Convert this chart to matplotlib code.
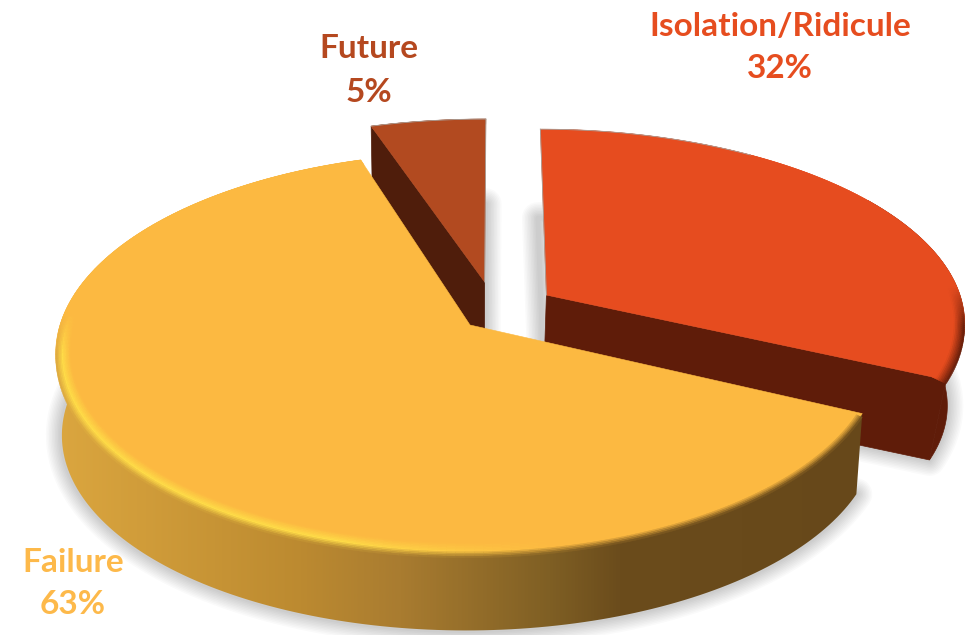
import numpy as np
import matplotlib
matplotlib.use('Agg')
from matplotlib import pyplot as plt
from matplotlib.colors import LinearSegmentedColormap, to_rgb
from matplotlib.collections import PolyCollection
from matplotlib.patches import Polygon

plt.rcParams['font.family'] = ['Lato', 'DejaVu Sans']

# data, clockwise from 12 o'clock
categories = ['Isolation/Ridicule', 'Failure', 'Future']
values = [32, 63, 5]

# style
top_colors = ['#e64c1f', '#fcb941', '#b24a20']
side_colors = ['#5f1c09', '#6a4a1b', '#4f1d0b']
text_colors = ['#e64d1f', '#fdb94a', '#b5481f']
offsets = [(0.189, 0.156), (0.0, 0.0), (0.035, 0.226)]
stretch = [1.03, 1.0, 1.05]
shrink = [0.965, 0.985, 0.985]
label_pos = [(780, 27, 69), (73, 563, 605), (369, 49, 92)]

# failure rim shading, x position in pixels against colour
rim_x = [58, 300, 400, 550, 620, 865]
rim_colors = ['#dba63f', '#bc8a30', '#a97c30', '#7f5f24', '#6b4c1c', '#67481a']

# projection of the pie on the picture
CX, CY = 470, 325
VX = 495
RX, RY = 410, 196
K = 0.136
D = 82


def project(theta, rad, i):
    """top face point of slice i for an angle clockwise from 12 o'clock"""
    X = offsets[i][0] + stretch[i] * rad * np.sin(theta)
    Y = offsets[i][1] + rad * np.cos(theta)
    w = 1 + K * Y
    return VX + (RX * X + CX - VX) / w, CY - RY * Y / w


def lower(x, y, i):
    """same point on the bottom face"""
    return CX + shrink[i] * (x - CX), CY + shrink[i] * (y - CY) + D


def lerp(a, b, t):
    return tuple(a[n] + (b[n] - a[n]) * t for n in range(3))


def front_of(theta):
    return np.clip((0.05 - np.cos(theta)) / 0.2, 0, 1)


fig = plt.figure(figsize=(9.65, 6.35), dpi=100)
ax = fig.add_axes([0, 0, 1, 1])

rim_pos = [(x - rim_x[0]) / (rim_x[-1] - rim_x[0]) for x in rim_x]
rim_cmap = LinearSegmentedColormap.from_list('rim', list(zip(rim_pos, rim_colors)))

# slice angles come from the values
edges = np.cumsum([0] + values) / sum(values) * 2 * np.pi

slices = []
for i in range(len(values)):
    th = np.linspace(edges[i], edges[i + 1], 200)
    tx, ty = project(th, 1.0, i)
    ax_, ay_ = project(0.0, 0.0, i)
    bx, by = lower(tx, ty, i)
    slices.append(dict(th=th, tx=tx, ty=ty, ax=ax_, ay=ay_, bx=bx, by=by))

# soft shadow round the bottom faces
for i, s in enumerate(slices):
    ox, oy = lower(s['ax'], s['ay'], i)
    pts = np.column_stack([np.r_[ox, s['bx']], np.r_[oy, s['by']]])
    for w in np.arange(32, 2, -3):
        ax.add_patch(Polygon(pts, closed=True, fc='none', ec='black', lw=w * 0.72,
                             alpha=0.02, joinstyle='round', zorder=1))


def draw_bevel(i, side_at, zorder):
    # the ring rolls over the rim at the front, stays on the face at the back
    th = slices[i]['th']
    steps = np.linspace(0, 1, 11)
    drop = 6 * front_of(th) * np.abs(np.cos(th)) ** 0.5
    quads, cols = [], []
    for j in range(len(steps) - 1):
        x0, y0 = project(th, 0.965 + 0.035 * steps[j], i)
        x1, y1 = project(th, 0.965 + 0.035 * steps[j + 1], i)
        y0 = y0 + drop * steps[j]
        y1 = y1 + drop * steps[j + 1]
        t = (j + 0.5) / (len(steps) - 1)
        for n in range(len(th) - 1):
            quads.append([(x0[n], y0[n]), (x0[n + 1], y0[n + 1]), (x1[n + 1], y1[n + 1]), (x1[n], y1[n])])
            cols.append(side_at(x0[n], th[n], t))
    ax.add_collection(PolyCollection(quads, facecolors=cols, edgecolors=cols, linewidths=0.3, zorder=zorder))


def dark_bevel(face, side):
    f, d = to_rgb(face), to_rgb(side)

    def col(x, theta, t):
        return lerp(f, d, front_of(theta) * max(0, t - 0.3) / 0.7)
    return col


def failure_bevel(x, theta, t):
    f = to_rgb(top_colors[1])
    side = rim_cmap((x - rim_x[0]) / (rim_x[-1] - rim_x[0]))[:3]
    glow = np.clip((560 - x) / 220, 0, 1)
    hl = lerp(f, to_rgb('#ffdc48'), glow)
    if t < 0.55:
        c = lerp(f, hl, t / 0.55)
    else:
        c = lerp(hl, side, (t - 0.55) / 0.45)
    return lerp(f, c, front_of(theta))


# back to front: future, isolation, failure
for i, z in [(2, 3), (0, 6), (1, 9)]:
    s = slices[i]
    ox, oy = lower(s['ax'], s['ay'], i)
    keep = s['th'] > 1.0
    rim = np.column_stack([np.r_[s['tx'][keep], s['bx'][keep][::-1]], np.r_[s['ty'][keep], s['by'][keep][::-1]]])
    if i == 1:
        img = ax.imshow(np.linspace(0, 1, 512).reshape(1, -1), cmap=rim_cmap, vmin=0, vmax=1,
                        extent=[rim_x[0], rim_x[-1], 635, 0], aspect='auto', zorder=z)
        img.set_clip_path(Polygon(rim, closed=True, transform=ax.transData))
    elif i == 0:
        ax.add_patch(Polygon(rim, closed=True, fc=side_colors[i], ec=side_colors[i], lw=0.5, zorder=z))
    # radial wall that faces us
    if i != 1:
        k = -1 if i == 0 else 0
        wall = [(s['ax'], s['ay']), (s['tx'][k], s['ty'][k]), (s['bx'][k], s['by'][k]), (ox, oy)]
        ax.add_patch(Polygon(wall, closed=True, fc=side_colors[i], ec=side_colors[i], lw=0.5, zorder=z))
    face = np.column_stack([np.r_[s['ax'], s['tx']], np.r_[s['ay'], s['ty']]])
    ax.add_patch(Polygon(face, closed=True, fc=top_colors[i], ec=top_colors[i], lw=0.4, zorder=z + 1))
    if i == 1:
        draw_bevel(i, failure_bevel, z + 2)
    else:
        draw_bevel(i, dark_bevel(top_colors[i], side_colors[i]), z + 2)

# thin grey edge on the two straight sides beside the gap
back = slices[0]
ax.plot([back['ax'], back['tx'][0]], [back['ay'], back['ty'][0]], color='#a9a29c', lw=0.6, zorder=8)
ax.plot(back['tx'][:60], back['ty'][:60], color='#a9a29c', lw=0.6, zorder=8)
back = slices[2]
ax.plot([back['ax'], back['tx'][-1]], [back['ay'], back['ty'][-1]], color='#a9a29c', lw=0.6, zorder=5)
ax.plot(back['tx'], back['ty'], color='#a9a29c', lw=0.6, zorder=5)

for i in range(len(values)):
    x, y1, y2 = label_pos[i]
    ax.text(x, y1, categories[i], color=text_colors[i], fontsize=24, fontweight='bold',
            ha='center', va='center', zorder=20)
    ax.text(x, y2, '%d%%' % values[i], color=text_colors[i], fontsize=24, fontweight='bold',
            ha='center', va='center', zorder=20)

ax.set_xlim(0, 965)
ax.set_ylim(635, 0)
ax.axis('off')

fig.savefig('out.png', dpi=100)
